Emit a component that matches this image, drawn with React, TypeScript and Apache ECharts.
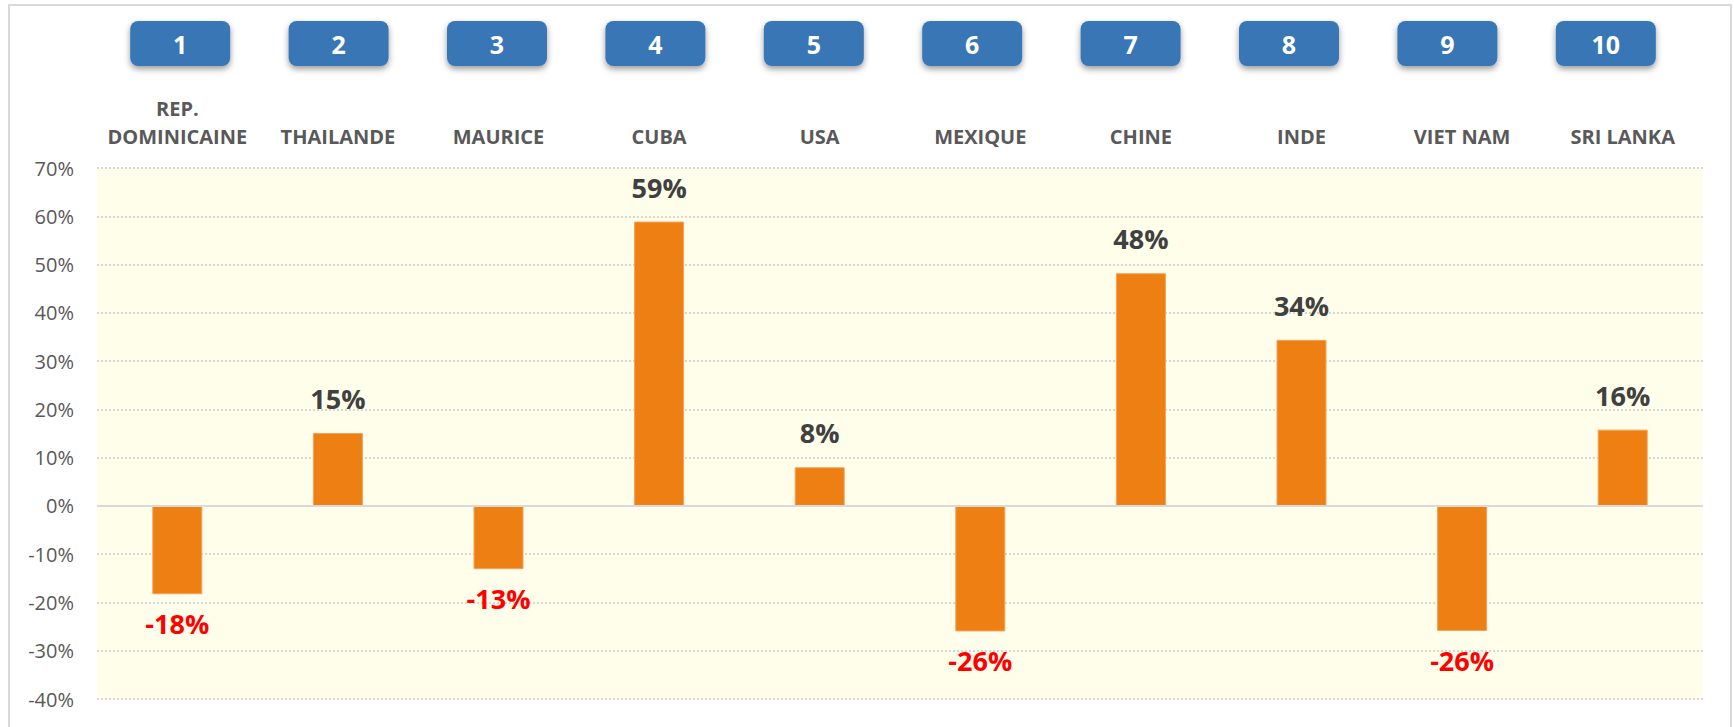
import React, { useEffect, useRef } from "react";
import * as echarts from "echarts";

const countries = [
  "REP.\nDOMINICAINE",
  "THAILANDE",
  "MAURICE",
  "CUBA",
  "USA",
  "MEXIQUE",
  "CHINE",
  "INDE",
  "VIET NAM",
  "SRI LANKA",
];
const ranks = ["1", "2", "3", "4", "5", "6", "7", "8", "9", "10"];
const growth = [-18.3, 15.1, -13.1, 58.9, 8.0, -26.0, 48.2, 34.4, -25.9, 15.8];
const yMin = -40;
const yMax = 70;
const yStep = 10;

const FONT = '"Open Sans", "Noto Sans", sans-serif';

export default function App() {
  const ref = useRef<HTMLDivElement>(null);
  useEffect(() => {
    if (!ref.current) return;
    const chart = echarts.init(ref.current, null, { renderer: "svg" });
    chart.setOption({
      animation: false,
      backgroundColor: "#ffffff",
      graphic: [
        {
          type: "rect",
          shape: { x: 9, y: 5, width: 1722, height: 740 },
          style: { fill: "none", stroke: "#D9D9D9", lineWidth: 2 },
          silent: true,
          z: 100,
        },
      ],
      grid: [
        {
          left: 97,
          right: 31,
          top: 168,
          height: 531,
          show: true,
          backgroundColor: "#FFFEEA",
          borderWidth: 0,
        },
        { left: 101, width: 1584, top: 21, height: 45 },
      ],
      xAxis: [
        {
          type: "category",
          data: countries,
          position: "top",
          gridIndex: 0,
          axisLine: { show: false },
          axisTick: { show: false },
          axisLabel: {
            interval: 0,
            margin: 18,
            fontFamily: FONT,
            fontSize: 20,
            fontWeight: "bold",
            color: "#595959",
            lineHeight: 28,
          },
        },
        {
          type: "category",
          data: ranks,
          gridIndex: 1,
          show: false,
        },
      ],
      yAxis: [
        {
          type: "value",
          min: yMin,
          max: yMax,
          interval: yStep,
          gridIndex: 0,
          axisLine: { show: false },
          axisTick: { show: false },
          axisLabel: {
            formatter: "{value}%",
            margin: 23,
            fontFamily: FONT,
            fontSize: 20,
            color: "#595959",
          },
          splitLine: {
            show: true,
            lineStyle: { color: "#D6D6D6", width: 2, type: [2, 2] },
          },
        },
        { type: "value", min: 0, max: 1, gridIndex: 1, show: false },
      ],
      series: [
        {
          type: "bar",
          xAxisIndex: 0,
          yAxisIndex: 0,
          barWidth: 50,
          itemStyle: { color: "#ED7F13", borderColor: "#F3A25C", borderWidth: 1 },
          label: {
            show: true,
            fontFamily: FONT,
            fontSize: 27,
            fontWeight: "bold",
            formatter: (p: any) => Math.round(p.value) + "%",
          },
          data: growth.map((v) => ({
            value: v,
            label: {
              position: v >= 0 ? "top" : "bottom",
              distance: v >= 0 ? 21 : 16,
              color: v >= 0 ? "#404040" : "#FF0000",
            },
          })),
          markLine: {
            silent: true,
            symbol: ["none", "none"],
            label: { show: false },
            lineStyle: { color: "#D9D9D9", type: "solid", width: 2 },
            data: [{ yAxis: 0 }],
          },
        },
        {
          type: "custom",
          xAxisIndex: 1,
          yAxisIndex: 1,
          data: ranks.map((r, i) => [i, 0.5, r]),
          renderItem: (params: any, api: any) => {
            const p = api.coord([api.value(0), api.value(1)]);
            const label = ranks[params.dataIndex];
            return {
              type: "group",
              children: [
                {
                  type: "rect",
                  shape: { x: p[0] - 50, y: p[1] - 22.5, width: 100, height: 45, r: 8 },
                  style: {
                    fill: "#3776B5",
                    shadowBlur: 6,
                    shadowOffsetX: 0,
                    shadowOffsetY: 3,
                    shadowColor: "rgba(0,0,0,0.4)",
                  },
                },
                {
                  type: "text",
                  style: {
                    text: label,
                    x: p[0],
                    y: p[1],
                    align: "center",
                    verticalAlign: "middle",
                    fill: "#FFFFFF",
                    fontFamily: FONT,
                    fontSize: 25,
                    fontWeight: "bold",
                  },
                },
              ],
            };
          },
        },
      ],
    });
    return () => chart.dispose();
  }, []);
  return (
    <div
      ref={ref}
      style={{ position: "fixed", left: 0, top: 0, width: "1734px", height: "727px" }}
    />
  );
}
